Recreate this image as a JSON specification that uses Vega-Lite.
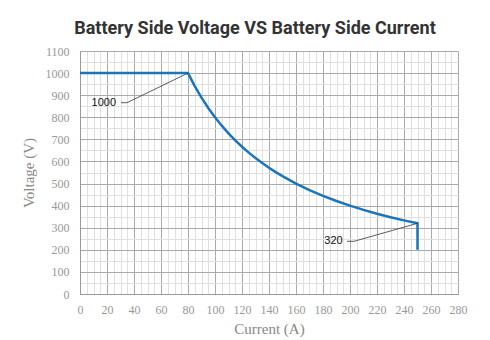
{
  "$schema": "https://vega.github.io/schema/vega-lite/v6.json",
  "width": 378,
  "height": 243,
  "autosize": "none",
  "padding": {"left": 80, "top": 51, "right": 32, "bottom": 46},
  "background": "white",
  "title": {
    "text": "Battery Side Voltage VS Battery Side Current",
    "font": "Roboto",
    "fontSize": 18,
    "fontWeight": "bold",
    "color": "#333333",
    "anchor": "middle",
    "dx": -14,
    "offset": 7
  },
  "config": {
    "view": {"stroke": null},
    "axis": {
      "labelFont": "Liberation Serif",
      "labelFontSize": 12,
      "labelColor": "#999999",
      "titleFont": "Liberation Serif",
      "titleFontSize": 15,
      "titleFontWeight": "normal",
      "titleColor": "#888888",
      "ticks": false,
      "domainColor": "#999999",
      "labelFlush": false,
      "labelOverlap": false,
      "format": "d"
    }
  },
  "datasets": {
    "curve": [
      {"i": 0, "current": 0, "voltage": 1000},
      {"i": 1, "current": 80, "voltage": 1000},
      {"i": 2, "current": 85, "voltage": 941.2},
      {"i": 3, "current": 90, "voltage": 888.9},
      {"i": 4, "current": 95, "voltage": 842.1},
      {"i": 5, "current": 100, "voltage": 800},
      {"i": 6, "current": 105, "voltage": 761.9},
      {"i": 7, "current": 110, "voltage": 727.3},
      {"i": 8, "current": 115, "voltage": 695.7},
      {"i": 9, "current": 120, "voltage": 666.7},
      {"i": 10, "current": 125, "voltage": 640},
      {"i": 11, "current": 130, "voltage": 615.4},
      {"i": 12, "current": 135, "voltage": 592.6},
      {"i": 13, "current": 140, "voltage": 571.4},
      {"i": 14, "current": 145, "voltage": 551.7},
      {"i": 15, "current": 150, "voltage": 533.3},
      {"i": 16, "current": 160, "voltage": 500},
      {"i": 17, "current": 170, "voltage": 470.6},
      {"i": 18, "current": 180, "voltage": 444.4},
      {"i": 19, "current": 190, "voltage": 421.1},
      {"i": 20, "current": 200, "voltage": 400},
      {"i": 21, "current": 210, "voltage": 381},
      {"i": 22, "current": 220, "voltage": 363.6},
      {"i": 23, "current": 230, "voltage": 347.8},
      {"i": 24, "current": 240, "voltage": 333.3},
      {"i": 25, "current": 250, "voltage": 320},
      {"i": 26, "current": 250, "voltage": 200}
    ],
    "leaders": [
      {"g": "a", "i": 0, "current": 30.4, "voltage": 866},
      {"g": "a", "i": 1, "current": 34.8, "voltage": 866},
      {"g": "a", "i": 2, "current": 80, "voltage": 1000},
      {"g": "b", "i": 0, "current": 197.8, "voltage": 238.6},
      {"g": "b", "i": 1, "current": 203, "voltage": 238.6},
      {"g": "b", "i": 2, "current": 250, "voltage": 320}
    ],
    "labels": [
      {"current": 26.7, "voltage": 866, "label": "1000"},
      {"current": 194.6, "voltage": 238.6, "label": "320"}
    ]
  },
  "resolve": {"axis": {"x": "independent", "y": "independent"}},
  "layer": [
    {
      "data": {"name": "curve"},
      "mark": {"type": "line", "opacity": 0},
      "encoding": {
        "x": {"field": "current", "type": "quantitative", "scale": {"domain": [0, 280], "nice": false},
          "axis": {"orient": "bottom", "values": [5,10,15,25,30,35,45,50,55,65,70,75,85,90,95,105,110,115,125,130,135,145,150,155,165,170,175,185,190,195,205,210,215,225,230,235,245,250,255,265,270,275], "labels": false, "domain": false, "title": null, "grid": true, "gridColor": "#e0e0e0", "gridWidth": 1}},
        "y": {"field": "voltage", "type": "quantitative", "scale": {"domain": [0, 1100], "nice": false},
          "axis": {"orient": "left", "values": [50,150,250,350,450,550,650,750,850,950,1050], "labels": false, "domain": false, "title": null, "grid": true, "gridColor": "#e0e0e0", "gridWidth": 1}}
      }
    },
    {
      "data": {"name": "curve"},
      "mark": {"type": "line", "color": "#1b75bb", "strokeWidth": 2.5},
      "encoding": {
        "x": {"field": "current", "type": "quantitative", "scale": {"domain": [0, 280], "nice": false},
          "axis": {"orient": "bottom", "values": [0,20,40,60,80,100,120,140,160,180,200,220,240,260,280], "title": "Current (A)", "grid": true, "gridColor": "#aaaaaa", "gridWidth": 1, "labelPadding": 10, "titlePadding": 6}},
        "y": {"field": "voltage", "type": "quantitative", "scale": {"domain": [0, 1100], "nice": false},
          "axis": {"orient": "left", "values": [0,100,200,300,400,500,600,700,800,900,1000,1100], "title": "Voltage (V)", "grid": true, "gridColor": "#aaaaaa", "gridWidth": 1, "labelPadding": 11, "titlePadding": 9}},
        "order": {"field": "i", "type": "quantitative"}
      }
    },
    {
      "data": {"name": "leaders"},
      "mark": {"type": "line", "color": "#333333", "strokeWidth": 0.8},
      "encoding": {
        "x": {"field": "current", "type": "quantitative", "axis": null},
        "y": {"field": "voltage", "type": "quantitative", "axis": null},
        "detail": {"field": "g"},
        "order": {"field": "i", "type": "quantitative"}
      }
    },
    {
      "data": {"name": "labels"},
      "mark": {"type": "text", "align": "right", "baseline": "middle", "font": "Liberation Sans", "fontSize": 11, "color": "#111111"},
      "encoding": {
        "x": {"field": "current", "type": "quantitative", "axis": null},
        "y": {"field": "voltage", "type": "quantitative", "axis": null},
        "text": {"field": "label"}
      }
    }
  ]
}
